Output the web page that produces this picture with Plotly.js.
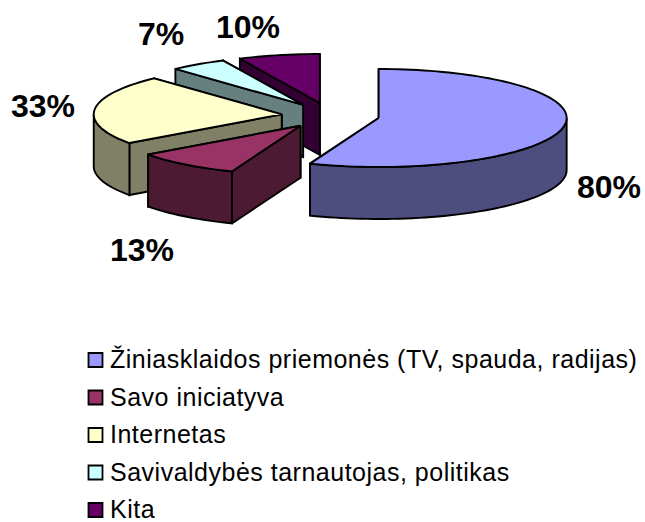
<!DOCTYPE html>
<html><head><meta charset="utf-8">
<script src="https://cdn.plot.ly/plotly-3.0.1.min.js"></script>
<style>html,body{margin:0;padding:0;background:#fff;overflow:hidden}#c{width:645px;height:522px}
.scatterlayer .textpoint text{letter-spacing:0.5px}</style>
</head><body><div id="c"></div>
<script>
// Data
const categories = ["Žiniasklaidos priemonės (TV, spauda, radijas)", "Savo iniciatyva", "Internetas", "Savivaldybės tarnautojas, politikas", "Kita"];
const values = [80, 13, 33, 7, 10];
const percentLabels = ["80%", "13%", "33%", "7%", "10%"];
const topColors = ["#9999FF", "#993366", "#FFFFCC", "#CCFFFF", "#660066"];
const wallColors = ["#4D4D80", "#4D1A33", "#808066", "#668080", "#330033"];

// Layout constants
const W = 645, H = 522;
const CX = 330.5, CY = 115.6, RX = 188, RY = 49, DEPTH = 52, EXPL_X = 49, EXPL_Y = 12.9;
const LABEL_POS = [[609,187],[142,250],[43,106],[161,34],[248,27]];
const LEGEND_MARK_X = 95.5, LEGEND_TEXT_X = 110, LEGEND_TEXT_DY = 2, LEGEND_TOP = 360, LEGEND_PITCH = 37.5;
const EDGE = {color:"#000", width:1.9};

const total = values.reduce((a,b)=>a+b,0);
const rad = d => d*Math.PI/180;
let start = 0;
const wedges = values.map((v,i)=>{
  const a0 = start, a1 = start + v/total*360; start = a1;
  const mid = rad((a0+a1)/2);
  return {i, a0, a1, cx: CX+EXPL_X*Math.sin(mid), cy: CY-EXPL_Y*Math.cos(mid)};
});
const rimPt = (w,deg,dz=0) => [w.cx+RX*Math.sin(rad(deg)), w.cy-RY*Math.cos(rad(deg))+dz];
function arc(w,a,b,dz=0){
  const n = Math.max(2,Math.ceil(Math.abs(b-a)/2)), pts=[];
  for(let k=0;k<=n;k++) pts.push(rimPt(w,a+(b-a)*k/n,dz));
  return pts;
}
function face(pts,color){
  const c = pts.concat([pts[0]]);
  return {type:"scatter",mode:"lines",x:c.map(p=>p[0]),y:c.map(p=>p[1]),fill:"toself",fillcolor:color,
    line:{color:EDGE.color,width:EDGE.width,simplify:false},hoverinfo:"skip",showlegend:false};
}
const traces=[];
// painter's order: back slices first
[4,3,2,1,0].forEach(idx=>{
  const w = wedges[idx], wall = wallColors[idx];
  const apex=[w.cx,w.cy], apexB=[w.cx,w.cy+DEPTH];
  // radial faces
  [w.a1,w.a0].forEach(a=>{
    traces.push(face([apex,rimPt(w,a),rimPt(w,a,DEPTH),apexB],wall));
  });
  // outer wall: only the part of the rim facing the viewer (90..270 degrees)
  const f0=Math.max(w.a0,90), f1=Math.min(w.a1,270);
  if(f1>f0) traces.push(face(arc(w,f0,f1).concat(arc(w,f1,f0,DEPTH)),wall));
  // top
  traces.push(face([apex].concat(arc(w,w.a0,w.a1)),topColors[idx]));
});
// legend swatches
traces.push({type:"scatter",mode:"markers",
  x:categories.map(()=>LEGEND_MARK_X),
  y:categories.map((c,i)=>LEGEND_TOP+i*LEGEND_PITCH),
  marker:{symbol:"square",size:14,color:topColors,line:{color:"#000",width:1.8}},
  hoverinfo:"skip",showlegend:false,cliponaxis:false});
// legend text
traces.push({type:"scatter",mode:"text",
  x:categories.map(()=>LEGEND_TEXT_X),
  y:categories.map((c,i)=>LEGEND_TOP+LEGEND_TEXT_DY+i*LEGEND_PITCH),
  text:categories,textposition:"middle right",
  textfont:{family:"Liberation Sans, Arial, sans-serif",size:25,color:"#000"},
  hoverinfo:"skip",showlegend:false,cliponaxis:false});

const annotations = percentLabels.map((t,i)=>({x:LABEL_POS[i][0],y:LABEL_POS[i][1],text:"<b>"+t+"</b>",showarrow:false,
  xanchor:"center",yanchor:"middle",font:{family:"Liberation Sans, Arial, sans-serif",size:32,color:"#000"}}));

Plotly.newPlot("c",traces,{
  width:W,height:H,margin:{l:0,r:0,t:0,b:0},paper_bgcolor:"#fff",plot_bgcolor:"#fff",showlegend:false,
  xaxis:{range:[0,W],visible:false,fixedrange:true},
  yaxis:{range:[H,0],visible:false,fixedrange:true},
  annotations,hovermode:false
},{displayModeBar:false,staticPlot:true});
</script></body></html>
